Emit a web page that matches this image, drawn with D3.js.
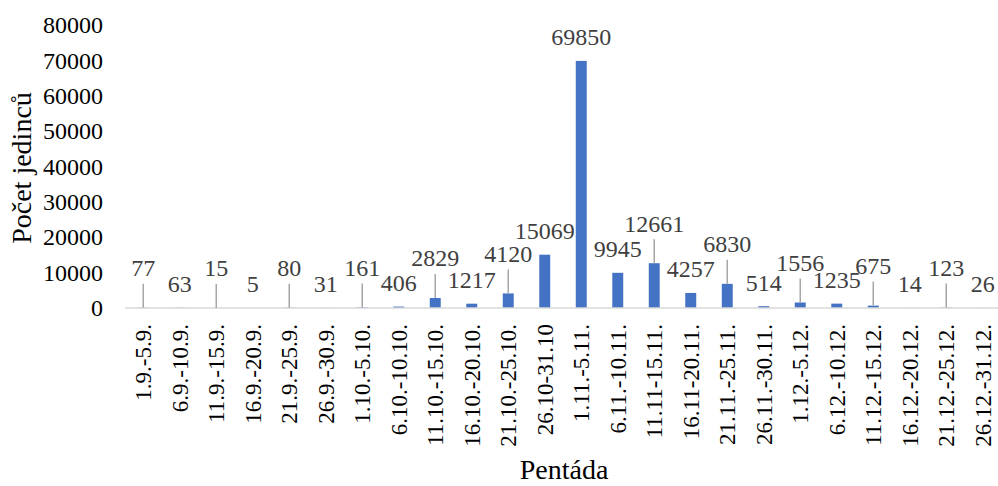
<!DOCTYPE html>
<html>
<head>
<meta charset="utf-8">
<script src="https://cdn.jsdelivr.net/npm/d3@7"></script>
<style>
  html, body { margin: 0; padding: 0; background: #fff; }
  svg { display: block; }
</style>
</head>
<body>
<svg id="chart" width="998" height="486"></svg>
<script>
// Five-day periods (pentády), September to December
const pentady = [
  "1.9.-5.9.", "6.9.-10.9.", "11.9.-15.9.", "16.9.-20.9.", "21.9.-25.9.", "26.9.-30.9.",
  "1.10.-5.10.", "6.10.-10.10.", "11.10.-15.10.", "16.10.-20.10.", "21.10.-25.10.", "26.10-31.10",
  "1.11.-5.11.", "6.11.-10.11.", "11.11-15.11.", "16.11-20.11.", "21.11.-25.11.", "26.11.-30.11.",
  "1.12.-5.12.", "6.12.-10.12.", "11.12.-15.12.", "16.12.-20.12.", "21.12.-25.12.", "26.12.-31.12."
];

// Number of individuals counted in each period
const pocetJedincu = [
  77, 63, 15, 5, 80, 31,
  161, 406, 2829, 1217, 4120, 15069,
  69850, 9945, 12661, 4257, 6830, 514,
  1556, 1235, 675, 14, 123, 26
];

// Y axis tick values
const yTicks = [0, 10000, 20000, 30000, 40000, 50000, 60000, 70000, 80000];

// Periods whose value label sits higher, joined to its bar by a leader line
const raisedLabels = [0, 2, 4, 6, 8, 10, 14, 16, 18, 20, 22];

const svg = d3.select("#chart");
const font = "'Liberation Serif', 'Times New Roman', serif";

const plot = { left: 125, right: 1001, top: 25, bottom: 308 };

const x = d3.scaleBand()
  .domain(pentady)
  .range([plot.left, plot.right])
  .paddingInner(0.7)
  .paddingOuter(0.35);

const y = d3.scaleLinear()
  .domain([0, 80000])
  .range([plot.bottom, plot.top]);

const cx = d => x(d) + x.bandwidth() / 2;

// Bars
svg.append("g")
  .selectAll("rect")
  .data(pentady)
  .join("rect")
  .attr("x", d => x(d))
  .attr("width", x.bandwidth())
  .attr("y", (d, i) => y(pocetJedincu[i]))
  .attr("height", (d, i) => y(0) - y(pocetJedincu[i]))
  .attr("fill", "#4472C4");

// Category axis line
svg.append("line")
  .attr("x1", plot.left).attr("x2", 998)
  .attr("y1", y(0)).attr("y2", y(0))
  .attr("stroke", "#D9D9D9")
  .attr("stroke-width", 1.5);

// Value axis labels
const yAxis = d3.axisLeft(y).tickValues(yTicks).tickSize(0).tickPadding(0).tickFormat(d3.format("d"));
const yg = svg.append("g")
  .attr("transform", `translate(103,0)`)
  .call(yAxis);
yg.attr("font-family", font).attr("font-size", 24);
yg.select(".domain").remove();
yg.selectAll("text")
  .attr("font-family", font)
  .attr("font-size", 24)
  .attr("fill", "#000");

// Category labels, rotated
const xAxis = d3.axisBottom(x).tickSize(0).tickPadding(0);
const xg = svg.append("g")
  .attr("transform", `translate(0,${y(0)})`)
  .call(xAxis);
xg.attr("font-family", font).attr("font-size", 23);
xg.select(".domain").remove();
xg.selectAll("text")
  .attr("font-family", font)
  .attr("font-size", 23)
  .attr("fill", "#000")
  .attr("text-anchor", "end")
  .attr("transform", "translate(0,16) rotate(-90)")
  .attr("x", 0)
  .attr("y", 0)
  .attr("dy", "0.35em");

// Value labels and leader lines
const labelY = (d, i) => {
  const top = y(pocetJedincu[i]);
  return raisedLabels.includes(i) ? top - 40 : top - 24;
};

svg.append("g")
  .selectAll("line")
  .data(pentady.filter((d, i) => raisedLabels.includes(i)))
  .join("line")
  .attr("x1", d => cx(d))
  .attr("x2", d => cx(d))
  .attr("y1", d => labelY(d, pentady.indexOf(d)) + 16)
  .attr("y2", d => y(pocetJedincu[pentady.indexOf(d)]))
  .attr("stroke", "#A6A6A6")
  .attr("stroke-width", 1.5);

svg.append("g")
  .selectAll("text")
  .data(pentady)
  .join("text")
  .attr("x", d => cx(d))
  .attr("y", (d, i) => labelY(d, i))
  .attr("dy", "0.35em")
  .attr("text-anchor", "middle")
  .attr("font-family", font)
  .attr("font-size", 24)
  .attr("fill", "#404040")
  .text((d, i) => pocetJedincu[i]);

// Axis titles
svg.append("text")
  .attr("transform", `translate(31,168) rotate(-90)`)
  .attr("text-anchor", "middle")
  .attr("font-family", font)
  .attr("font-size", 28)
  .attr("fill", "#000")
  .text("Počet jedinců");

svg.append("text")
  .attr("x", 564)
  .attr("y", 479)
  .attr("text-anchor", "middle")
  .attr("font-family", font)
  .attr("font-size", 28)
  .attr("fill", "#000")
  .text("Pentáda");
</script>
</body>
</html>
